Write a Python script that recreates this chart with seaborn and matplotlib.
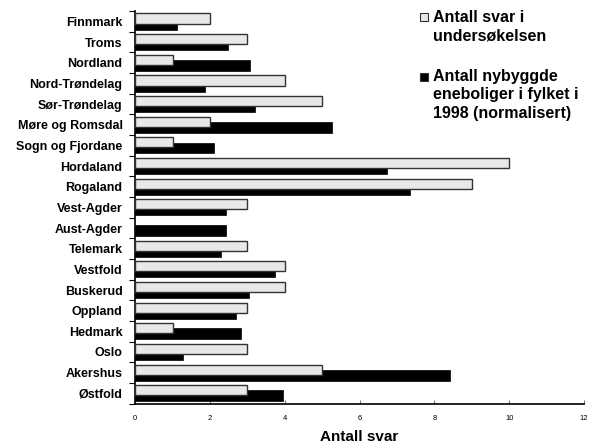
import numpy as np
import pandas as pd
import matplotlib
matplotlib.use('Agg')
import matplotlib.pyplot as plt
from matplotlib.patches import Rectangle
import seaborn as sns

fylker = ['Finnmark', 'Troms', 'Nordland', 'Nord-Trøndelag', 'Sør-Trøndelag',
          'Møre og Romsdal', 'Sogn og Fjordane', 'Hordaland', 'Rogaland',
          'Vest-Agder', 'Aust-Agder', 'Telemark', 'Vestfold', 'Buskerud',
          'Oppland', 'Hedmark', 'Oslo', 'Akershus', 'Østfold']
svar = [2, 3, 1, 4, 5, 2, 1, 10, 9, 3, 0, 3, 4, 4, 3, 1, 3, 5, 3]
nybygg = [1.12, 2.49, 3.07, 1.88, 3.2, 5.26, 2.11, 6.73, 7.36, 2.43,
          2.43, 2.29, 3.75, 3.04, 2.7, 2.83, 1.27, 8.41, 3.96]
serier = ['Antall svar i\nundersøkelsen',
          'Antall nybyggde\neneboliger i fylket i\n1998 (normalisert)']
farger = ['#e8e8e8', '#000000']
xticks = [0, 2, 4, 6, 8, 10, 12]

df = pd.DataFrame({
    'fylke': fylker * 2,
    'verdi': svar + nybygg,
    'serie': [serier[0]] * len(fylker) + [serier[1]] * len(fylker),
})

sns.set_theme(style='white')
plt.rcParams['font.family'] = ['Liberation Sans', 'DejaVu Sans']
plt.rcParams['text.color'] = 'black'
plt.rcParams['axes.labelcolor'] = 'black'
plt.rcParams['xtick.color'] = 'black'
plt.rcParams['ytick.color'] = 'black'

fig = plt.figure(figsize=(5.9, 4.46), dpi=100)
ax = fig.add_axes([0.229, 0.095, 0.761, 0.88])

sns.barplot(data=df, y='fylke', x='verdi', hue='serie', hue_order=serier,
            order=fylker, palette=farger, orient='h', width=0.78,
            dodge=True, legend=False, ax=ax)

# Excel-lignende overlapp: lys stolpe over, svart under
lys, svart = ax.containers[0], ax.containers[1]
for p in lys:
    p.set_height(0.49)
    p.set_edgecolor('#333333')
    p.set_linewidth(1.0)
    p.set_zorder(3)
for p in svart:
    p.set_y(p.get_y() + p.get_height() - 0.53)
    p.set_height(0.53)
    p.set_edgecolor('black')
    p.set_linewidth(0.5)
    p.set_zorder(2)
for p, v in zip(lys, svar):
    if v == 0:
        p.set_visible(False)

ax.set_xlim(0, 12)
ax.set_ylim(len(fylker) - 0.5, -0.5)
ax.set_xticks(xticks)
ax.set_xticklabels([str(t) for t in xticks], fontsize=5.5)
ax.tick_params(axis='x', bottom=True, direction='in', length=3, width=0.8,
               color='#777777', labelcolor='black', pad=8)
ax.tick_params(axis='y', which='major', left=True, length=0, labelsize=9, pad=9)
ax.set_yticks(np.arange(-0.5, len(fylker) + 0.5, 1), minor=True)
ax.tick_params(axis='y', which='minor', left=True, direction='out', length=4,
               width=0.8, color='black')
for lbl in ax.get_yticklabels():
    lbl.set_fontweight('bold')

ax.set_ylabel('')
ax.set_xlabel('Antall svar', fontsize=11, fontweight='bold', labelpad=6)
sns.despine(ax=ax)
for s in ['left', 'bottom']:
    ax.spines[s].set_color('black')
    ax.spines[s].set_linewidth(1.2)

# forklaring
W, H = 590.0, 446.0
tekst_y = [10, 69]
boks_y = [13, 73]
for lab, farge, ty, by in zip(serier, farger, tekst_y, boks_y):
    fig.patches.append(Rectangle((420 / W, 1 - (by + 8) / H), 8 / W, 8 / H,
                                 transform=fig.transFigure, facecolor=farge,
                                 edgecolor='#333333', linewidth=0.8))
    fig.text(433 / W, 1 - ty / H, lab, ha='left', va='top', fontsize=11.5,
             fontweight='bold', linespacing=1.28)

fig.savefig('out.png', dpi=100)
